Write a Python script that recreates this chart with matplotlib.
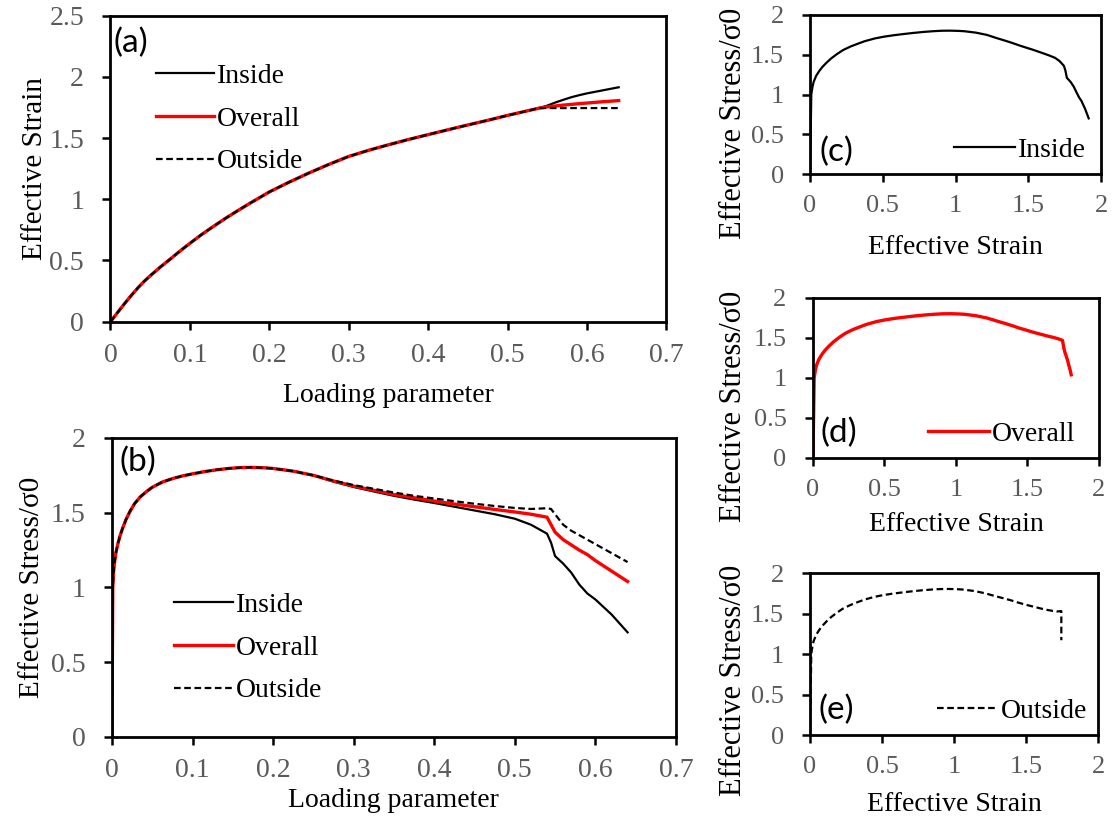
import matplotlib
matplotlib.use("Agg")
import matplotlib.pyplot as plt

# loading parameter steps shared by all three regions
load = [0, 0.001, 0.002, 0.003, 0.005, 0.0075, 0.01, 0.0135, 0.0175, 0.0225, 0.028, 0.035,
        0.0425, 0.05, 0.0625, 0.075, 0.0875, 0.1, 0.115, 0.13, 0.145, 0.16, 0.175, 0.19,
        0.2, 0.225, 0.25, 0.275, 0.3, 0.325, 0.35, 0.375, 0.4, 0.425, 0.45, 0.475,
        0.5, 0.52, 0.54, 0.545, 0.55, 0.56, 0.57, 0.58, 0.59, 0.6, 0.62, 0.64]

# effective strain (identical in all regions up to load 0.54)
strain_common = [0, 0.0085, 0.017, 0.025, 0.042, 0.063, 0.084, 0.113, 0.146, 0.186, 0.228, 0.28,
                 0.33, 0.375, 0.445, 0.51, 0.577, 0.64, 0.713, 0.78, 0.845, 0.906, 0.965, 1.022,
                 1.06, 1.14, 1.215, 1.285, 1.35, 1.40, 1.445, 1.488, 1.528, 1.568, 1.607, 1.645,
                 1.685, 1.715, 1.745]
strain_in = strain_common + [1.755, 1.765, 1.79, 1.812, 1.833, 1.85, 1.865, 1.89, 1.915]
strain_ov = strain_common + [1.75, 1.755, 1.762, 1.769, 1.775, 1.781, 1.786, 1.797, 1.806]
strain_out = strain_common + [1.745, 1.745, 1.745, 1.745, 1.745, 1.745, 1.745, 1.745, 1.745]

# normalised effective stress (identical in all regions up to load 0.25)
stress_common = [0, 1.0, 1.1, 1.16, 1.235, 1.295, 1.345, 1.40, 1.455, 1.51, 1.56, 1.605,
                 1.64, 1.67, 1.705, 1.728, 1.746, 1.76, 1.775, 1.787, 1.796, 1.802, 1.803, 1.80,
                 1.796, 1.778, 1.75]
stress_in = stress_common + [1.708, 1.672, 1.642, 1.613, 1.588, 1.565, 1.54, 1.515, 1.49,
                             1.46, 1.42, 1.36, 1.30, 1.21, 1.16, 1.10, 1.02, 0.96, 0.92,
                             0.82, 0.70]
stress_ov = stress_common + [1.712, 1.678, 1.65, 1.622, 1.60, 1.578, 1.558, 1.54, 1.522,
                             1.505, 1.49, 1.47, 1.42, 1.37, 1.32, 1.285, 1.25, 1.22, 1.18,
                             1.11, 1.04]
stress_out = stress_common + [1.715, 1.685, 1.66, 1.635, 1.613, 1.595, 1.577, 1.56, 1.545,
                              1.532, 1.525, 1.53, 1.525, 1.49, 1.42, 1.38, 1.35, 1.32, 1.29,
                              1.23, 1.17]

lp_ticks = [0, 0.1, 0.2, 0.3, 0.4, 0.5, 0.6, 0.7]
lp_labels = ["0", "0.1", "0.2", "0.3", "0.4", "0.5", "0.6", "0.7"]
half_ticks = [0, 0.5, 1, 1.5, 2]
half_labels = ["0", "0.5", "1", "1.5", "2"]

serif = "Liberation Serif"
sans = "Lato"
gray = "#5a5a5a"

plt.rcParams["font.family"] = serif

fig = plt.figure(figsize=(11.15, 8.24), dpi=100)


def style_axes(ax, size=20):
    for s in ax.spines.values():
        s.set_linewidth(2.0)
        s.set_color("black")
    ax.tick_params(direction="out", length=6, width=1.8, color="black",
                   labelcolor=gray, labelsize=size)
    ax.tick_params(axis="x", pad=9)
    ax.tick_params(axis="y", pad=13)


def plot_series(ax, x, y, kind, label):
    if kind == "in":
        ax.plot(x, y, color="black", lw=1.6, label=label)
    elif kind == "ov":
        ax.plot(x, y, color="#ff0000", lw=2.4, label=label)
    else:
        ax.plot(x, y, color="black", lw=1.6, ls=(0, (3, 1.6)), label=label)


leg_kw = dict(frameon=False, fontsize=20, handlelength=2.1, handletextpad=0.1,
              labelspacing=0.62, borderaxespad=0)

# (a) effective strain vs loading parameter
ax_a = fig.add_axes([0.0991, 0.6096, 0.4985, 0.3714])
plot_series(ax_a, load, strain_in, "in", "Inside")
plot_series(ax_a, load, strain_ov, "ov", "Overall")
plot_series(ax_a, load, strain_out, "out", "Outside")
ax_a.set_xlim(0, 0.7)
ax_a.set_ylim(0, 2.5)
ax_a.set_xticks(lp_ticks)
ax_a.set_xticklabels(lp_labels)
ax_a.set_yticks([0, 0.5, 1, 1.5, 2, 2.5])
ax_a.set_yticklabels(["0", "0.5", "1", "1.5", "2", "2.5"])
style_axes(ax_a)
ax_a.set_xlabel("Loading parameter", fontsize=20)
ax_a.set_ylabel("Effective Strain", fontsize=21)
ax_a.xaxis.set_label_coords(0.5, -0.2)
ax_a.yaxis.set_label_coords(-0.112, 0.5)
ax_a.legend(loc="upper left", bbox_to_anchor=(0.062, 0.88), **leg_kw)
ax_a.text(0.005, 0.912, "(a)", transform=ax_a.transAxes, fontsize=24, family=sans, va="center")

# (b) effective stress vs loading parameter
ax_b = fig.add_axes([0.1004, 0.1056, 0.5058, 0.3629])
plot_series(ax_b, load, stress_in, "in", "Inside")
plot_series(ax_b, load, stress_ov, "ov", "Overall")
plot_series(ax_b, load, stress_out, "out", "Outside")
ax_b.set_xlim(0, 0.7)
ax_b.set_ylim(0, 2)
ax_b.set_xticks(lp_ticks)
ax_b.set_xticklabels(lp_labels)
ax_b.set_yticks(half_ticks)
ax_b.set_yticklabels(half_labels)
style_axes(ax_b)
ax_b.set_xlabel("Loading parameter", fontsize=20)
ax_b.set_ylabel("Effective Stress/σ0", fontsize=21)
ax_b.xaxis.set_label_coords(0.5, -0.172)
ax_b.yaxis.set_label_coords(-0.118, 0.5)
ax_b.legend(loc="upper left", bbox_to_anchor=(0.091, 0.52), **leg_kw)
ax_b.text(0.014, 0.92, "(b)", transform=ax_b.transAxes, fontsize=24, family=sans, va="center")

# (c)-(e) stress-strain curves for each region
small = [
    ([0.7265, 0.7888, 0.2610, 0.1930], strain_in, stress_in, "in", "Inside", "(c)",
     (0.985, 0.0), (0.034, 0.14), -0.383, (-0.213, 0.32)),
    ([0.7291, 0.4442, 0.2565, 0.1942], strain_ov, stress_ov, "ov", "Overall", "(d)",
     (0.955, 0.0), (0.025, 0.156), -0.338, (-0.227, 0.32)),
    ([0.7265, 0.1080, 0.2583, 0.1966], strain_out, stress_out, "out", "Outside", "(e)",
     (1.0, 0.0), (0.028, 0.154), -0.352, (-0.215, 0.34)),
]
for rect, sx, sy, kind, name, tag, leg_at, tag_at, xl_y, yl_at in small:
    ax = fig.add_axes(rect)
    plot_series(ax, sx, sy, kind, name)
    ax.set_xlim(0, 2)
    ax.set_ylim(0, 2)
    ax.set_xticks(half_ticks)
    ax.set_xticklabels(half_labels)
    ax.set_yticks(half_ticks)
    ax.set_yticklabels(half_labels)
    style_axes(ax, 19)
    ax.set_xlabel("Effective Strain", fontsize=20)
    ax.set_ylabel("Effective Stress/σ0", fontsize=22)
    ax.xaxis.set_label_coords(0.5, xl_y)
    ax.yaxis.set_label_coords(*yl_at)
    ax.legend(loc="lower right", bbox_to_anchor=leg_at, frameon=False, fontsize=20,
              handlelength=2.2, handletextpad=0.1, borderaxespad=0)
    ax.text(tag_at[0], tag_at[1], tag, transform=ax.transAxes, fontsize=24,
            family=sans, va="center")

fig.savefig("out.png", dpi=100)
